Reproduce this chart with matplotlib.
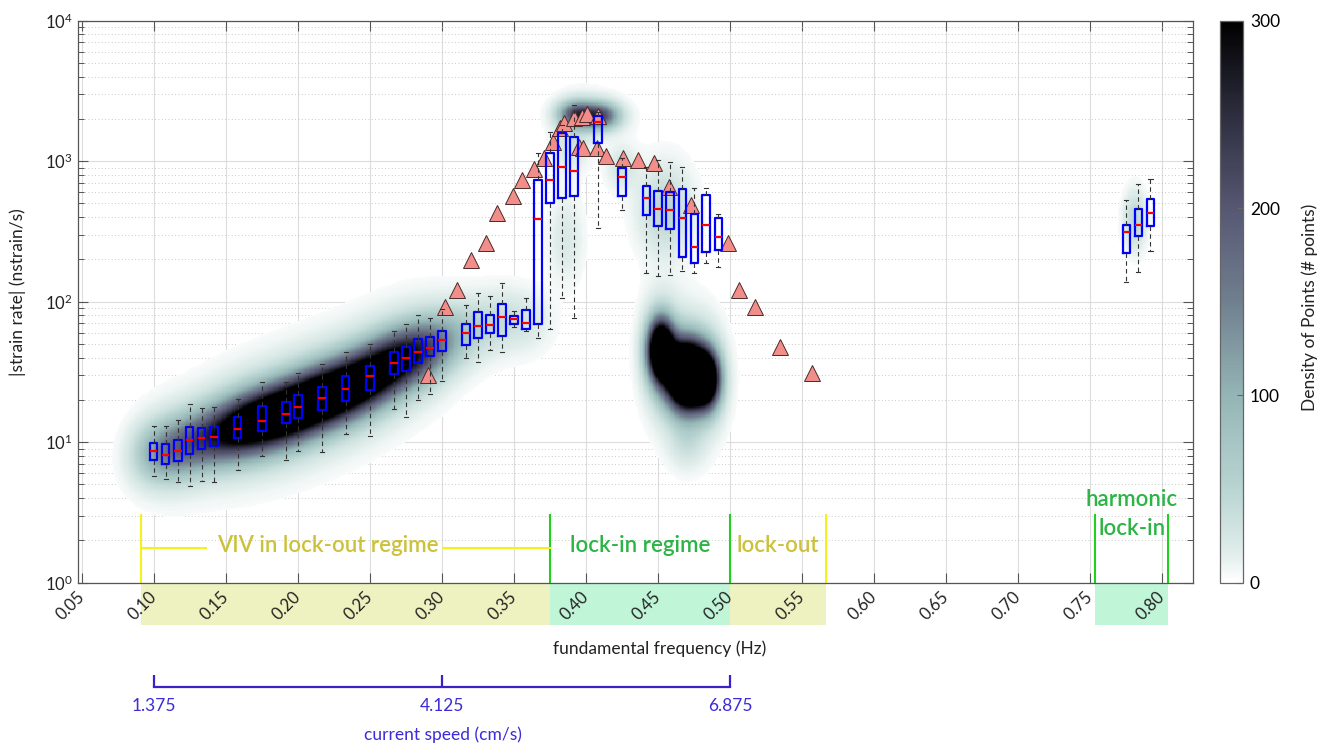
import numpy as np
import matplotlib
matplotlib.use("Agg")
import matplotlib.pyplot as plt
from matplotlib.colors import LinearSegmentedColormap
from matplotlib.ticker import LogLocator, NullFormatter

plt.rcParams['font.family'] = ['Lato', 'DejaVu Sans']
plt.rcParams['mathtext.default'] = 'regular'

# --- box plots (frequency Hz, strain rate nstrain/s) ---
box_f = [0.1000, 0.1083, 0.1167, 0.1250, 0.1333, 0.1417, 0.1583, 0.1750, 0.1917,
         0.2000, 0.2167, 0.2333, 0.2500, 0.2667, 0.2750, 0.2833, 0.2917, 0.3000,
         0.3167, 0.3250, 0.3333, 0.3417, 0.3500, 0.3583, 0.3667, 0.3750, 0.3833,
         0.3917, 0.4083, 0.4250, 0.4417, 0.4500, 0.4583, 0.4667, 0.4750, 0.4833,
         0.4917, 0.7750, 0.7833, 0.7917]
box_med = [8.6, 8.1, 8.7, 10.3, 10.7, 10.9, 12.5, 14.1, 15.8,
           17.8, 20.6, 23.9, 29.4, 36.8, 40.0, 43.9, 46.8, 53.4,
           60.2, 67.1, 68.3, 78.2, 75.0, 70.2, 390, 735, 914,
           856, 1911, 768, 550, 457, 452, 396, 244, 353,
           287, 312, 351, 426]
box_q1 = [7.5, 7.0, 7.3, 8.3, 8.9, 9.4, 10.8, 12.1, 13.6,
          14.8, 16.9, 19.8, 23.5, 30.4, 32.3, 36.4, 40.8, 44.6,
          49.2, 54.9, 59.6, 57.0, 69.4, 63.6, 69.0, 507, 544,
          565, 1341, 568, 412, 348, 329, 209, 188, 227,
          233, 221, 294, 346]
box_q3 = [9.8, 9.7, 10.3, 12.8, 12.6, 12.9, 15.1, 18.2, 19.2,
          21.6, 24.8, 29.8, 35.0, 44.1, 47.3, 54.3, 56.4, 61.9,
          69.0, 84.9, 80.4, 95.8, 79.1, 87.3, 735, 1138, 1580,
          1479, 2098, 890, 666, 617, 601, 637, 419, 572,
          392, 350, 455, 535]
box_lo = [5.75, 5.45, 5.2, 4.9, 5.3, 5.2, 6.3, 8.0, 7.5,
          8.6, 8.5, 11.4, 11.1, 17.1, 15.2, 20.0, 22.0, 27.3,
          39.8, 37.2, 45.3, 43.9, 65.8, 62.2, 54.9, 63.6, 106,
          76.2, 333, 449, 161, 152, 154, 165, 161, 188,
          177, 139, 162, 231]
box_hi = [13.0, 13.0, 14.4, 18.6, 17.6, 17.9, 20.4, 27.0, 27.0,
          31.3, 36.2, 43.6, 49.7, 61.9, 69.0, 80.4, 76.1, 88.2,
          94.8, 115, 110, 136, 85.9, 107, 1138, 1622, 1811,
          2512, 2250, 1049, 914, 1020, 982, 914, 641, 641,
          421, 530, 685, 743]

# --- triangles ---
tri_f = [0.2901, 0.3019, 0.3105, 0.3200, 0.3304, 0.3380, 0.3495, 0.3558, 0.3641,
         0.3711, 0.3773, 0.3819, 0.3849, 0.3916, 0.3970, 0.4005, 0.4081, 0.3954,
         0.3981, 0.4074, 0.4139, 0.4255, 0.4363, 0.4474, 0.4578, 0.4729, 0.4988,
         0.5063, 0.5175, 0.5347, 0.5568]
tri_y = [30, 92, 122, 198, 260, 430, 565, 735, 877,
         1059, 1376, 1714, 1862, 2019, 2074, 2157, 2108, 1268,
         1236, 1236, 1089, 1049, 1020, 975, 658, 488, 260,
         122, 92, 47.6, 31.1]

# --- density of points: kernel anchors (f, strain rate, spread f, spread decades, weight) ---
dens_f = [0.0917, 0.1000, 0.1083, 0.1167, 0.1250, 0.1333, 0.1417, 0.1500, 0.1583,
          0.1667, 0.1750, 0.1833, 0.1917, 0.2000, 0.2083, 0.2167, 0.2250, 0.2333,
          0.2417, 0.2500, 0.2583, 0.2667, 0.2750, 0.2833, 0.2917, 0.3000, 0.3083,
          0.3167, 0.3250, 0.3333, 0.3417, 0.3500, 0.3583, 0.3667,
          0.393, 0.409, 0.386, 0.390,
          0.452, 0.470, 0.484, 0.470,
          0.455, 0.425, 0.781]
dens_y = [7.5, 8.5, 8.6, 9.0, 9.8, 10.5, 11.0, 11.8, 12.6,
          13.5, 14.3, 15.2, 16.2, 17.6, 19.0, 20.6, 22.2, 24.0,
          26.5, 29.0, 32.5, 36.5, 40, 44, 47, 53, 57,
          61, 66, 69, 74, 75, 72, 70,
          2150, 2100, 280, 1300,
          45, 30, 28, 10,
          450, 900, 380]
dens_sf = [0.010] * 34 + [0.008, 0.009, 0.008, 0.008,
                          0.006, 0.009, 0.006, 0.008,
                          0.012, 0.007, 0.005]
dens_sd = [0.14] * 34 + [0.06, 0.06, 0.20, 0.12,
                         0.14, 0.15, 0.13, 0.12,
                         0.20, 0.10, 0.13]
dens_w = [16, 45, 55, 60, 65, 70, 80, 100, 120,
          135, 145, 150, 155, 155, 155, 155, 150, 145,
          140, 135, 130, 120, 105, 90, 70, 48, 28,
          18, 15, 13, 12, 10, 9, 7,
          180, 200, 20, 25,
          500, 680, 350, 25,
          45, 25, 45]

# --- regime annotations ---
viv_f = [0.0912, 0.375]
lockin_f = [0.375, 0.5]
lockout_f = [0.5, 0.5666]
harm_f = [0.7532, 0.8041]

speed_tick_f = [0.1, 0.3, 0.5]
speed_labels = ['1.375', '4.125', '6.875']
x_ticks = [0.05, 0.10, 0.15, 0.20, 0.25, 0.30, 0.35, 0.40,
           0.45, 0.50, 0.55, 0.60, 0.65, 0.70, 0.75, 0.80]

W, H = 1332, 744
fig = plt.figure(figsize=(W / 100, H / 100), dpi=100)
ax_l, ax_r, ax_t, ax_b = 77.5, 1193.3, 20.7, 582.7
ax = fig.add_axes([ax_l / W, 1 - ax_b / H, (ax_r - ax_l) / W, (ax_b - ax_t) / H])
xlim = (0.047, 0.8215)

cmap = LinearSegmentedColormap.from_list('dens', [
    (0.0, (1, 1, 1)), (0.05, (0.88, 0.93, 0.92)), (0.17, (0.72, 0.83, 0.82)),
    (0.333, (0.58, 0.71, 0.71)), (0.5, (0.44, 0.50, 0.56)), (0.667, (0.34, 0.34, 0.45)),
    (0.833, (0.18, 0.18, 0.25)), (1.0, (0, 0, 0))])

# each anchor is a sharp core plus a wider faint halo
fg = np.linspace(xlim[0], xlim[1], 900)
lg = np.linspace(0, 4, 500)
F, LG = np.meshgrid(fg, lg)
Z = np.zeros_like(F)
for f0, y0, sf, sd, w in zip(dens_f, dens_y, dens_sf, dens_sd, dens_w):
    d2f = ((F - f0) / sf) ** 2
    d2y = ((LG - np.log10(y0)) / sd) ** 2
    Z += w * np.exp(-0.5 * (d2f + d2y))
    Z += 0.10 * w * np.exp(-0.5 * (d2f / 1.5 ** 2 + d2y / 1.8 ** 2))
Zm = np.ma.masked_less(Z, 4)
mesh = ax.pcolormesh(fg, 10 ** lg, Zm, cmap=cmap, vmin=0, vmax=300,
                     shading='auto', zorder=1, rasterized=True)

ax.plot(tri_f, tri_y, linestyle='none', marker='^', markersize=11,
        markerfacecolor='#f28e8a', markeredgecolor='#4a2a2a', markeredgewidth=0.7, zorder=2.5)

stats = [dict(med=m, q1=a, q3=b, whislo=lo, whishi=hi, fliers=[])
         for m, a, b, lo, hi in zip(box_med, box_q1, box_q3, box_lo, box_hi)]
ax.bxp(stats, positions=box_f, widths=0.005, capwidths=0.003, showfliers=False,
       manage_ticks=False, zorder=3,
       boxprops=dict(color='#0000ff', linewidth=1.6),
       medianprops=dict(color='#ff0000', linewidth=1.6),
       whiskerprops=dict(color='#333333', linewidth=0.8, linestyle=(0, (4, 3))),
       capprops=dict(color='#333333', linewidth=0.8))

ax.set_yscale('log')
ax.set_xlim(*xlim)
ax.set_ylim(1, 1e4)
ax.set_xticks(x_ticks)
ax.set_xticklabels(['%.2f' % v for v in x_ticks], rotation=45, ha='right',
                   va='center', rotation_mode='anchor')
ax.yaxis.set_minor_locator(LogLocator(base=10, subs=np.arange(2, 10)))
ax.yaxis.set_minor_formatter(NullFormatter())
ax.set_axisbelow(True)
ax.grid(True, which='major', color='#dcdcdc', linewidth=0.8)
ax.grid(True, which='minor', axis='y', color='#b8b8b8', linewidth=0.6, linestyle=(0, (1, 3)))
ax.tick_params(which='both', direction='in', top=True, right=True, color='#555555',
               labelcolor='#222222')
ax.tick_params(axis='x', labelsize=12, pad=8)
ax.tick_params(axis='y', labelsize=12)
ax.tick_params(which='major', length=7, width=0.8)
ax.tick_params(which='minor', length=4, width=0.7)
for s in ax.spines.values():
    s.set_color('#555555')
    s.set_linewidth(0.9)

# regime markers
yellow_line, green_line = '#f2f21e', '#1fd21f'
yellow_txt, green_txt = '#ccc23a', '#2cb445'
band_y = -42 / (ax_b - ax_t)
for (a, b), col in [(viv_f, '#eef2c0'), (lockout_f, '#eef2c0'),
                    (lockin_f, '#c0f5d8'), (harm_f, '#c0f5d8')]:
    ax.axvspan(a, b, ymin=band_y, ymax=0, color=col, clip_on=False, zorder=0.2, lw=0)
for xv, col in [(viv_f[0], yellow_line), (lockout_f[1], yellow_line),
                (lockin_f[0], green_line), (lockin_f[1], green_line),
                (harm_f[0], green_line), (harm_f[1], green_line)]:
    ax.plot([xv, xv], [1, 3.03], color=col, lw=1.5, zorder=2)
ax.plot([viv_f[0], 0.1363], [1.77, 1.77], color=yellow_line, lw=1.5, zorder=2)
ax.plot([0.3008, viv_f[1]], [1.77, 1.77], color=yellow_line, lw=1.5, zorder=2)
ax.text(0.2206, 1.85, 'VIV in lock-out regime', color=yellow_txt, fontsize=16,
        ha='center', va='center', fontweight='semibold', zorder=4)
ax.text(0.4375, 1.85, 'lock-in regime', color=green_txt, fontsize=16,
        ha='center', va='center', fontweight='semibold', zorder=4)
ax.text(0.5329, 1.85, 'lock-out', color=yellow_txt, fontsize=16,
        ha='center', va='center', fontweight='semibold', zorder=4)
ax.text(0.7787, 3.88, 'harmonic', color=green_txt, fontsize=16,
        ha='center', va='center', fontweight='semibold', zorder=4)
ax.text(0.7787, 2.45, 'lock-in', color=green_txt, fontsize=16,
        ha='center', va='center', fontweight='semibold', zorder=4)

fig.text(660 / W, 1 - 649 / H, 'fundamental frequency (Hz)', ha='center', va='center',
         fontsize=12.5, color='#222222')
fig.text(18 / W, 1 - 292.5 / H, '|strain rate| (nstrain/s)', ha='center', va='center',
         rotation=90, fontsize=12.5, color='#222222')

# colorbar
cax = fig.add_axes([1220 / W, 1 - ax_b / H, 23 / W, (ax_b - ax_t) / H])
cb = fig.colorbar(mesh, cax=cax, ticks=[0, 100, 200, 300])
cb.outline.set_edgecolor('#666666')
cb.outline.set_linewidth(0.9)
cax.tick_params(direction='in', length=4, color='#666666', labelsize=12.5, pad=5)
fig.text(1310 / W, 1 - 307 / H, 'Density of Points (# points)', ha='center', va='center',
         rotation=90, fontsize=12.5, color='#222222')

# current speed axis
speed_col = '#3b22c8'
sax = fig.add_axes([ax_l / W, 1 - 687 / H, (ax_r - ax_l) / W, 0.001])
sax.set_xlim(*xlim)
sax.patch.set_visible(False)
for s in ['left', 'right', 'top']:
    sax.spines[s].set_visible(False)
sax.spines['bottom'].set_bounds(speed_tick_f[0], speed_tick_f[-1])
sax.spines['bottom'].set_color(speed_col)
sax.spines['bottom'].set_linewidth(1.6)
sax.set_yticks([])
sax.set_xticks(speed_tick_f)
sax.set_xticklabels(speed_labels)
sax.tick_params(axis='x', direction='in', length=8.5, width=1.6, color=speed_col,
                labelcolor='#3d2ad8', labelsize=12.5, pad=8)
fig.text(443 / W, 1 - 735 / H, 'current speed (cm/s)', ha='center', va='center',
         fontsize=12.5, color='#3d2ad8')

fig.savefig('out.png', dpi=100)
